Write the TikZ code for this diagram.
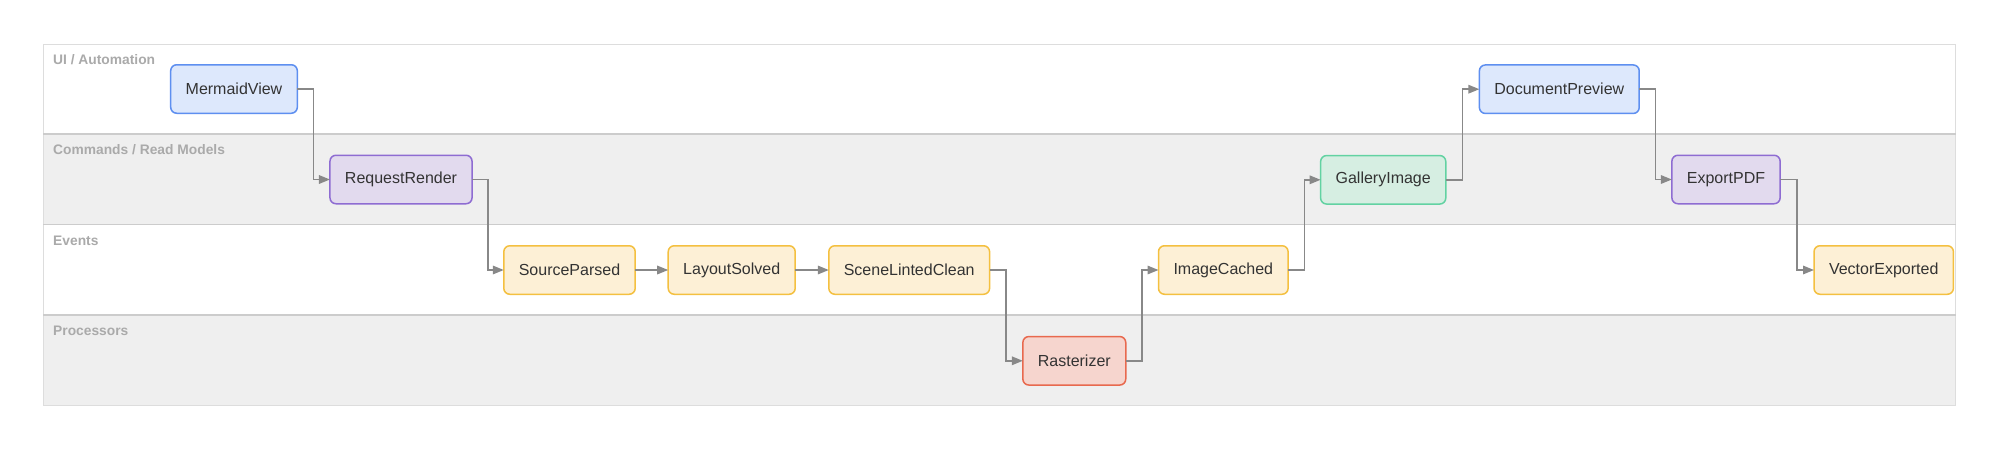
\documentclass[tikz,border=0pt]{standalone}
\usepackage{fontspec}
\setmainfont{Liberation Sans}
\usetikzlibrary{arrows.meta,calc}
\definecolor{lanegray}{HTML}{EFEFEF}
\definecolor{laneline}{HTML}{CCCCCC}
\definecolor{laneouter}{HTML}{DDDDDD}
\definecolor{lanetext}{HTML}{AAAAAA}
\definecolor{edgecol}{HTML}{888888}
\definecolor{bluefill}{HTML}{DDE8FC}
\definecolor{bluedraw}{HTML}{5E8FF0}
\definecolor{purpfill}{HTML}{E2DAEE}
\definecolor{purpdraw}{HTML}{8E6CD2}
\definecolor{yelfill}{HTML}{FDF0D6}
\definecolor{yeldraw}{HTML}{F4C040}
\definecolor{redfill}{HTML}{F6D5CE}
\definecolor{reddraw}{HTML}{E8694E}
\definecolor{grnfill}{HTML}{D6EEE2}
\definecolor{grndraw}{HTML}{62D2A2}
\definecolor{nodetext}{HTML}{333333}
\tikzset{
  box/.style={rounded corners=6pt, line width=1.5pt, minimum height=48.5pt, inner xsep=15pt, inner ysep=0pt, outer sep=0pt, font=\fontsize{16}{18}\selectfont, text=nodetext},
  bluebox/.style={box, fill=bluefill, draw=bluedraw},
  purpbox/.style={box, fill=purpfill, draw=purpdraw},
  yelbox/.style={box, fill=yelfill, draw=yeldraw},
  redbox/.style={box, fill=redfill, draw=reddraw},
  grnbox/.style={box, fill=grnfill, draw=grndraw},
  lanelabel/.style={anchor=base west, inner sep=0pt, text=lanetext, font=\fontsize{13.8}{15}\selectfont\bfseries},
  flow/.style={draw=edgecol, line width=1.6pt, -{Triangle[length=11pt,width=8.5pt]}},
}
\begin{document}
\begin{tikzpicture}[x=1pt,y=-1pt]
\useasboundingbox (0,0) rectangle (2000,450);
% lanes
\fill[white] (43,44) rectangle (1955.5,134);
\fill[lanegray] (43,134) rectangle (1955.5,224.5);
\fill[white] (43,224.5) rectangle (1955.5,315);
\fill[lanegray] (43,315) rectangle (1955.5,405.5);
\draw[laneouter, line width=1pt] (43,44) rectangle (1955.5,405.5);
\draw[laneline, line width=1.5pt] (43,134) -- (1955.5,134);
\draw[laneline, line width=1.5pt] (43,224.5) -- (1955.5,224.5);
\draw[laneline, line width=1.5pt] (43,315) -- (1955.5,315);
\node[lanelabel] (l1) at (53,64) {UI / Automation};
\node[lanelabel] (l2) at (53,154.5) {Commands / Read Models};
\node[lanelabel] (l3) at (53,245) {Events};
\node[lanelabel] (l4) at (53,335.5) {Processors};
% nodes
\node[bluebox] (mv) at (234,89) {MermaidView};
\node[purpbox] (rr) at (401,179.5) {RequestRender};
\node[yelbox] (sp) at (569.5,270) {SourceParsed};
\node[yelbox] (ls) at (731.7,270) {LayoutSolved};
\node[yelbox] (slc) at (909.2,270) {SceneLintedClean};
\node[redbox] (ra) at (1074.3,360.8) {Rasterizer};
\node[yelbox] (ic) at (1223.3,270) {ImageCached};
\node[grnbox] (gi) at (1383.2,179.8) {GalleryImage};
\node[bluebox] (dp) at (1559.3,89.2) {DocumentPreview};
\node[purpbox] (ep) at (1726,179.5) {ExportPDF};
\node[yelbox] (ve) at (1883.7,270) {VectorExported};
% connectors
\draw[flow] (mv.east) -| ($(mv.east)!.5!(rr.west)$) |- (rr.west);
\draw[flow] (rr.east) -| ($(rr.east)!.5!(sp.west)$) |- (sp.west);
\draw[flow] (sp.east) -- (ls.west);
\draw[flow] (ls.east) -- (slc.west);
\draw[flow] (slc.east) -| ($(slc.east)!.5!(ra.west)$) |- (ra.west);
\draw[flow] (ra.east) -| ($(ra.east)!.5!(ic.west)$) |- (ic.west);
\draw[flow] (ic.east) -| ($(ic.east)!.5!(gi.west)$) |- (gi.west);
\draw[flow] (gi.east) -| ($(gi.east)!.5!(dp.west)$) |- (dp.west);
\draw[flow] (dp.east) -| ($(dp.east)!.5!(ep.west)$) |- (ep.west);
\draw[flow] (ep.east) -| ($(ep.east)!.5!(ve.west)$) |- (ve.west);
\end{tikzpicture}
\end{document}
